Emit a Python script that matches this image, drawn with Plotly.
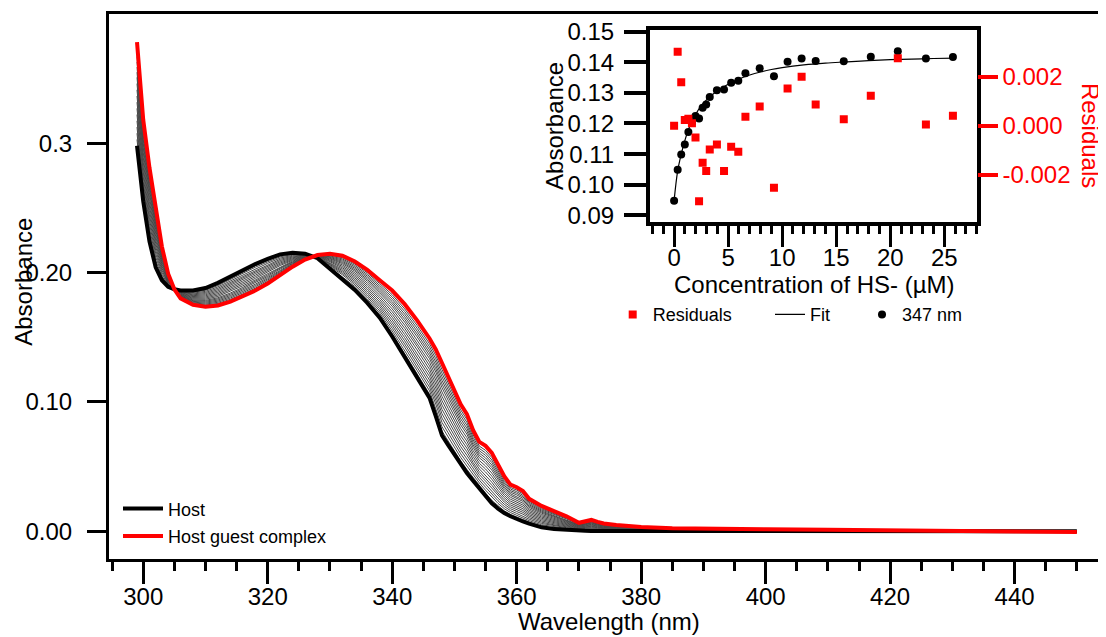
import plotly.graph_objects as go

# ---------------- main spectra ----------------
wavelength = [299, 300, 301, 302, 303, 304, 305, 306, 308, 310, 312, 314, 316, 318, 320,
              322, 324, 326, 328, 330, 332, 334, 336, 338, 340, 342, 344, 346, 347, 348,
              349, 350, 351, 352, 353, 354, 355, 356, 357, 358, 359, 360, 361, 362, 364,
              366, 368, 370, 371, 372, 373, 374, 376, 378, 380, 385, 390, 400, 410, 420,
              430, 440, 450]

host = [0.298, 0.255, 0.224, 0.204, 0.194, 0.189, 0.187, 0.186, 0.186, 0.188, 0.192, 0.197,
        0.202, 0.2065, 0.2105, 0.2140, 0.2152, 0.2145, 0.2110, 0.2025, 0.1950, 0.1865,
        0.1765, 0.1650, 0.1505, 0.1350, 0.1190, 0.1030, 0.0890, 0.0740, 0.0665, 0.0590,
        0.0515, 0.0450, 0.0390, 0.0330, 0.0270, 0.0215, 0.0175, 0.0140, 0.0115, 0.0093,
        0.0075, 0.0058, 0.0030, 0.0016, 0.0008, 0.0004, 0.0003, 0.0002, 0.0002, 0.0001,
        0.0001, 0.0, 0.0, -0.0002, -0.0002, -0.0001, -0.0001, 0.0, 0.0, 0.0, 0.0]

complex_ = [0.378, 0.318, 0.281, 0.248, 0.220, 0.199, 0.187, 0.180, 0.175, 0.1735, 0.1745,
            0.1775, 0.1815, 0.1860, 0.1915, 0.1980, 0.2045, 0.2100, 0.2135, 0.2145, 0.2130,
            0.2085, 0.2020, 0.1940, 0.1860, 0.1755, 0.1630, 0.1490, 0.1405, 0.1300, 0.1190,
            0.1075, 0.0980, 0.0905, 0.0780, 0.0690, 0.0660, 0.0605, 0.0510, 0.0425, 0.0360,
            0.0340, 0.0310, 0.0250, 0.0195, 0.0155, 0.0115, 0.0065, 0.0075, 0.0087, 0.0072,
            0.0060, 0.0048, 0.0040, 0.0033, 0.0023, 0.0019, 0.0015, 0.0012, 0.0005, 0.0002,
            -0.0002, -0.0006]

# position of each intermediate titration spectrum between host (0) and complex (1),
# read off the grey band
titration_fraction = [0.06, 0.12, 0.18, 0.24, 0.30, 0.36, 0.42, 0.48, 0.54, 0.60, 0.66,
                      0.71, 0.76, 0.81, 0.86, 0.91]

# ---------------- inset: binding isotherm ----------------
conc = [0, 0.33, 0.66, 0.99, 1.32, 1.65, 1.98, 2.31, 2.64, 2.97, 3.30, 3.96, 4.62, 5.28,
        5.94, 6.60, 7.92, 9.24, 10.5, 11.8, 13.1, 15.7, 18.2, 20.7, 23.3, 25.8]
abs347 = [0.0948, 0.1049, 0.1099, 0.1131, 0.1172, 0.1202, 0.1224, 0.1216, 0.1251, 0.1262,
          0.1286, 0.1308, 0.1311, 0.1333, 0.1339, 0.1364, 0.1380, 0.1354, 0.1401, 0.1412,
          0.1404, 0.1403, 0.1418, 0.1436, 0.1412, 0.1417]
residuals = [0.0000, 0.00301, 0.00177, 0.00023, 0.00029, 0.00010, -0.00048, -0.00307,
             -0.00151, -0.00184, -0.00097, -0.00076, -0.00184, -0.00086, -0.00106, 0.00037,
             0.00078, -0.00252, 0.00152, 0.00200, 0.00087, 0.00026, 0.00122, 0.00275,
             0.00005, 0.00041]
fit_conc = [0, 0.33, 0.66, 1.0, 1.33, 1.66, 2.0, 2.5, 3.0, 3.5, 4.0, 5.0, 6.0, 7.0, 8.0,
            9.0, 10.0, 12.0, 14.0, 16.0, 18.0, 20.0, 22.0, 24.0, 26.0]
fit_abs = [0.0948, 0.1045, 0.1100, 0.1145, 0.1180, 0.1208, 0.1230, 0.1257, 0.1277, 0.1293,
           0.1306, 0.1328, 0.1345, 0.1358, 0.1368, 0.1376, 0.1382, 0.1391, 0.1397, 0.1401,
           0.1405, 0.1408, 0.1410, 0.1412, 0.1413]

main_yticks = [0, 0.1, 0.2, 0.3]
main_yticktext = ["0.00", "0.10", "0.20", "0.3"]
res_ticks = [-0.002, 0.0, 0.002]
res_ticktext = ["-0.002", "0.000", "0.002"]

# ---------------- layout geometry (screen pixels; page has an 8px body margin) ----------------
OFF = 8
W, H = 1106 - OFF, 637 - OFF
FRAME_L, FRAME_R, FRAME_T, FRAME_B = 109, 1103, 14, 559.5
L, T = FRAME_L - OFF, FRAME_T - OFF
R, B = W - (FRAME_R - OFF), H - (FRAME_B - OFF)
PW, PH = W - L - R, H - T - B


def px(x):
    return (x - OFF - L) / PW


def py(y):
    return (H - B - (y - OFF)) / PH


FONT = "Liberation Sans, Arial, sans-serif"
RED = "#ff0000"

fig = go.Figure()

for f in titration_fraction:
    fig.add_trace(go.Scatter(
        x=wavelength, y=[h + f * (c - h) for h, c in zip(host, complex_)],
        mode="lines", line=dict(color="#484848", width=1), showlegend=False,
        hoverinfo="skip"))

fig.add_trace(go.Scatter(x=wavelength, y=host, mode="lines", name="Host",
                         line=dict(color="black", width=4), legend="legend"))
fig.add_trace(go.Scatter(x=wavelength, y=complex_, mode="lines", name="Host guest complex",
                         line=dict(color=RED, width=4), legend="legend2"))

# inset
fig.add_trace(go.Scatter(x=conc, y=residuals, mode="markers", name="Residuals",
                         marker=dict(color=RED, symbol="square", size=8),
                         xaxis="x2", yaxis="y3", legend="legend3"))
fig.add_trace(go.Scatter(x=fit_conc, y=fit_abs, mode="lines", name="Fit",
                         line=dict(color="black", width=1.2, shape="spline"),
                         xaxis="x2", yaxis="y2", legend="legend4"))
fig.add_trace(go.Scatter(x=conc, y=abs347, mode="markers", name="347 nm",
                         marker=dict(color="black", size=8),
                         xaxis="x2", yaxis="y2", legend="legend5"))

tickfont = dict(family=FONT, size=24, color="black")
axis_common = dict(showgrid=False, zeroline=False, showline=True, linecolor="black",
                   mirror=True, ticks="outside", tickcolor="black", tickfont=tickfont)


def legend_at(xpx, ypx, itemwidth=30):
    return dict(x=px(xpx), y=py(ypx), xanchor="left", yanchor="middle",
                bgcolor="rgba(0,0,0,0)", borderwidth=0, itemwidth=itemwidth,
                font=dict(family=FONT, size=18, color="black"))


fig.update_layout(
    width=W, height=H,
    margin=dict(l=L, r=R, t=T, b=B, autoexpand=False),
    paper_bgcolor="white", plot_bgcolor="white",
    font=dict(family=FONT, size=24, color="black"),
    xaxis=dict(domain=[0, 1], range=[294.5, 454.2], tick0=300, dtick=20, ticklen=22,
               tickwidth=3, linewidth=3, ticklabelstandoff=-8,
               minor=dict(dtick=5, tick0=300, ticklen=9, tickwidth=3, ticks="outside",
                          tickcolor="black"),
               **axis_common),
    yaxis=dict(domain=[0, 1], range=[-0.0215, 0.3998], tickvals=main_yticks,
               ticktext=main_yticktext, ticklen=19, tickwidth=3, linewidth=3,
               ticklabelstandoff=10, **axis_common),
    xaxis2=dict(domain=[px(650), px(976.7)], anchor="y2", range=[-2.23, 28.0], tick0=0,
                dtick=5, ticklen=21, tickwidth=3, linewidth=4, ticklabelstandoff=-9,
                minor=dict(dtick=1, tick0=0, ticklen=8, tickwidth=3, ticks="outside",
                           tickcolor="black"),
                **axis_common),
    yaxis2=dict(domain=[py(221.7), py(30)], anchor="x2", range=[0.0880, 0.1505],
                tick0=0.09, dtick=0.01, tickformat=".2f", ticklen=22, tickwidth=4,
                linewidth=4, ticklabelstandoff=5, **axis_common),
    yaxis3=dict(overlaying="y2", anchor="x2", side="right", range=[-0.0039, 0.0039],
                tickvals=res_ticks, ticktext=res_ticktext, showgrid=False, zeroline=False,
                showline=False, ticks="outside", ticklen=20, tickwidth=4, tickcolor=RED,
                tickfont=dict(family=FONT, size=24, color=RED)),
    legend=legend_at(118, 509.3, itemwidth=40),
    legend2=legend_at(118, 536.7, itemwidth=40),
    legend3=legend_at(612.7, 315),
    legend4=legend_at(770, 315),
    legend5=legend_at(862, 315),
)

ann = [
    dict(text="Wavelength (nm)", x=px(609), y=py(622), textangle=0, color="black"),
    dict(text="Absorbance", x=px(24), y=py(282), textangle=-90, color="black"),
    dict(text="Absorbance", x=px(555), y=py(126), textangle=-90, color="black"),
    dict(text="Concentration of HS- (µM)", x=px(814), y=py(285), textangle=0, color="black"),
    dict(text="Residuals", x=px(1090), y=py(135), textangle=90, color=RED),
]
for a in ann:
    fig.add_annotation(text=a["text"], x=a["x"], y=a["y"], xref="paper", yref="paper",
                       xanchor="center", yanchor="middle", showarrow=False,
                       textangle=a["textangle"],
                       font=dict(family=FONT, size=24, color=a["color"]))

fig.write_html("out.html")
